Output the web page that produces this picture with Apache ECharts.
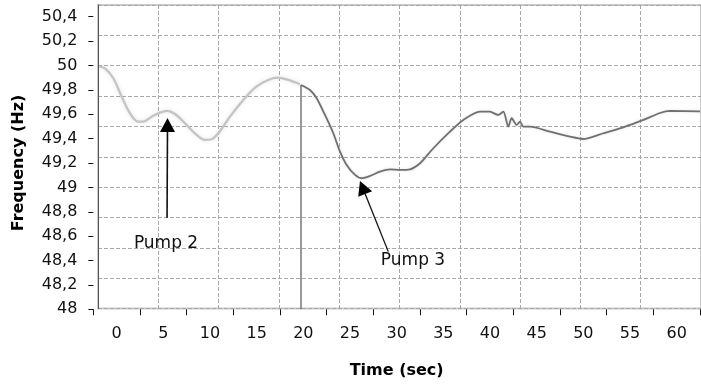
<!DOCTYPE html>
<html>
<head>
<meta charset="utf-8">
<script src="https://cdn.jsdelivr.net/npm/echarts/dist/echarts.min.js"></script>
<style>
  html, body { margin: 0; padding: 0; background: #fff; }
  #chart { width: 701px; height: 387px; }
</style>
</head>
<body>
<div id="chart"></div>
<script>
// Time axis labels (5 s bands)
const timeLabels = ['0', '5', '10', '15', '20', '25', '30', '35', '40', '45', '50', '55', '60'];

// Frequency before the switchover (light trace)
const earlyTime = [-1.86, -1.25, -0.36, 0.54, 1.43, 2.32, 2.85, 3.75, 4.64, 5.36, 6.25, 7.50, 8.57, 9.46,
  10.18, 10.89, 12.14, 13.57, 14.96, 16.23, 17.30, 18.39, 19.64];
const earlyFreq = [49.99, 49.977, 49.895, 49.744, 49.608, 49.539, 49.539, 49.580, 49.613, 49.627, 49.602,
  49.512, 49.430, 49.389, 49.395, 49.444, 49.580, 49.717, 49.826, 49.881, 49.900, 49.881, 49.846];

// Frequency after the switchover (dark trace)
const lateTime = [19.75, 20.71, 21.43, 22.32, 23.21, 23.93, 24.64, 25.54, 26.25, 27.14, 28.21, 29.29,
  30.36, 31.43, 32.50, 33.93, 35.71, 37.14, 38.93, 40.00, 40.86, 41.43, 41.96, 42.32, 42.86, 43.21,
  43.57, 44.29, 46.43, 48.57, 49.96, 52.14, 54.29, 56.43, 58.21, 59.29, 62.50];
const lateFreq = [49.840, 49.799, 49.731, 49.594, 49.444, 49.293, 49.184, 49.102, 49.075, 49.094, 49.129,
  49.148, 49.143, 49.148, 49.198, 49.321, 49.457, 49.553, 49.621, 49.621, 49.594, 49.621, 49.498, 49.567,
  49.512, 49.539, 49.498, 49.498, 49.457, 49.416, 49.397, 49.444, 49.493, 49.553, 49.610, 49.627, 49.624];

// Switchover marker (vertical drop)
const switchTime = [19.75, 19.75];
const switchFreq = [48, 49.840];

// Pump start annotations: label, arrow tail, arrow tip, label position
const pumpNames = ['Pump 2', 'Pump 3'];
const arrowTail = [[5.40, 48.75], [29.10, 48.473]];
const arrowTip = [[5.45, 49.569], [26.07, 49.053]];
const pumpLabelAt = [[5.29, 48.536], [31.75, 48.396]];

const zip = (xs, ys) => xs.map((x, i) => [x, ys[i]]);
const FONT = '"DejaVu Sans", Verdana, sans-serif';

const chart = echarts.init(document.getElementById('chart'), null, { renderer: 'canvas' });

const dashed = { show: true, lineStyle: { color: '#a8a8a8', width: 1, type: [4, 2] } };
const noTick = { show: true, length: 0, lineStyle: { color: 'rgba(0,0,0,0)' } };

chart.setOption({
  animation: false,
  backgroundColor: '#fff',
  grid: [
    // plot frame with the 10 x 10 dashed grid
    { left: 98, top: 5, right: 0, bottom: 78.5, show: true, borderColor: '#cacaca', borderWidth: 2,
      backgroundColor: 'rgba(255,255,255,0)' },
    // data area
    { left: 93.33, top: 16.7, right: 1, bottom: 77.7 }
  ],
  xAxis: [
    { gridIndex: 0, type: 'value', min: 0, max: 10, interval: 1,
      axisLine: { show: false, onZero: false }, axisTick: noTick, axisLabel: { show: false }, splitLine: dashed },
    { gridIndex: 1, type: 'category', data: timeLabels, boundaryGap: true,
      axisLine: { show: false, onZero: false },
      axisTick: { show: true, length: 6, lineStyle: { color: '#111', width: 1 } },
      axisLabel: { color: '#111', fontFamily: FONT, fontSize: 16, margin: 17 },
      splitLine: { show: false },
      name: 'Time (sec)', nameLocation: 'middle', nameGap: 54,
      nameTextStyle: { color: '#000', fontFamily: FONT, fontSize: 16, fontWeight: 'bold' } },
    { gridIndex: 1, type: 'value', min: -2.5, max: 62.5, show: false }
  ],
  yAxis: [
    { gridIndex: 0, type: 'value', min: 0, max: 10, interval: 1,
      axisLine: { show: true, onZero: false, lineStyle: { color: '#555', width: 1 } },
      axisTick: noTick, axisLabel: { show: false }, splitLine: dashed },
    { gridIndex: 1, type: 'value', min: 48, max: 50.4, interval: 0.2,
      axisLine: { show: false, onZero: false },
      axisTick: { show: true, length: 5, lineStyle: { color: '#111', width: 1 } },
      axisLabel: { color: '#111', fontFamily: FONT, fontSize: 16, margin: 16,
        formatter: v => String(Math.round(v * 10) / 10).replace('.', ',') },
      splitLine: { show: false },
      name: 'Frequency (Hz)', nameLocation: 'middle', nameGap: 66, nameRotate: 90,
      nameTextStyle: { color: '#000', fontFamily: FONT, fontSize: 16, fontWeight: 'bold' } }
  ],
  series: [
    { type: 'line', xAxisIndex: 2, yAxisIndex: 1, data: zip(earlyTime, earlyFreq),
      showSymbol: false, smooth: 0.35, z: 3,
      lineStyle: { color: '#c4c4c4', width: 2.3, shadowColor: 'rgba(0,0,0,0.12)', shadowBlur: 4 } },
    { type: 'line', xAxisIndex: 2, yAxisIndex: 1, data: zip(switchTime, switchFreq),
      showSymbol: false, z: 3, lineStyle: { color: '#777', width: 1.5 } },
    { type: 'line', xAxisIndex: 2, yAxisIndex: 1, data: zip(lateTime, lateFreq),
      showSymbol: false, smooth: 0.25, z: 4,
      lineStyle: { color: '#707070', width: 1.8, shadowColor: 'rgba(0,0,0,0.12)', shadowBlur: 3 } },
    { type: 'custom', xAxisIndex: 2, yAxisIndex: 1, z: 5, clip: false,
      data: pumpNames.map((n, i) => [arrowTail[i][0], arrowTail[i][1], arrowTip[i][0], arrowTip[i][1],
        pumpLabelAt[i][0], pumpLabelAt[i][1]]),
      renderItem: (params, api) => {
        const i = params.dataIndex;
        const tail = api.coord([api.value(0), api.value(1)]);
        const tip = api.coord([api.value(2), api.value(3)]);
        const at = api.coord([api.value(4), api.value(5)]);
        const dx = tip[0] - tail[0], dy = tip[1] - tail[1];
        const len = Math.hypot(dx, dy), ux = dx / len, uy = dy / len;
        const headLen = 14, headHalf = 7.5;
        const base = [tip[0] - ux * headLen, tip[1] - uy * headLen];
        const px = -uy, py = ux;
        return {
          type: 'group',
          children: [
            { type: 'line', shape: { x1: tail[0], y1: tail[1], x2: base[0], y2: base[1] },
              style: { stroke: '#111', lineWidth: i === 0 ? 1.6 : 1.3 } },
            { type: 'polygon', shape: { points: [tip,
                [base[0] + px * headHalf, base[1] + py * headHalf],
                [base[0] - px * headHalf, base[1] - py * headHalf]] },
              style: { fill: '#000' } },
            { type: 'text', x: at[0], y: at[1],
              style: { text: pumpNames[i], fill: '#111', font: '17px ' + FONT,
                align: 'center', verticalAlign: 'middle' } }
          ]
        };
      }
    }
  ]
});
</script>
</body>
</html>
